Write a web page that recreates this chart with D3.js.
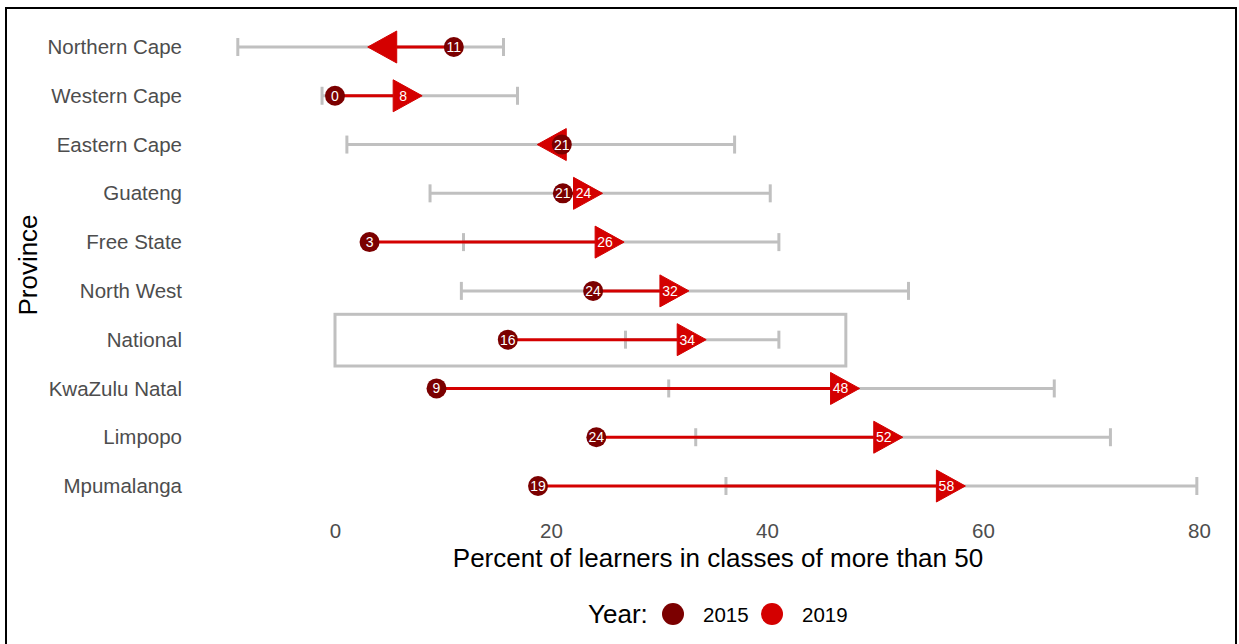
<!DOCTYPE html>
<html>
<head>
<meta charset="utf-8">
<script src="https://cdn.jsdelivr.net/npm/d3@7/dist/d3.min.js"></script>
<style>
  html, body { margin: 0; padding: 0; background: #fff; }
  svg { display: block; font-family: "Liberation Sans", Arial, Helvetica, sans-serif; }
</style>
</head>
<body>
<svg id="chart" width="1239" height="644"></svg>
<script>
// ---- data ----
const provinces = ["Northern Cape", "Western Cape", "Eastern Cape", "Guateng", "Free State",
                   "North West", "National", "KwaZulu Natal", "Limpopo", "Mpumalanga"];
const values2015 = [11.0, 0.0, 21.0, 21.1, 3.2, 23.9, 16.0, 9.4, 24.2, 18.8];
const values2019 = [3.4, 7.7, 19.1, 24.4, 26.4, 32.4, 34.0, 48.2, 52.2, 58.0];
const ciLow2019  = [-9.0, -1.2, 1.1, 8.8, 11.9, 11.7, 26.9, 30.9, 33.4, 36.2];
const ciHigh2019 = [15.6, 16.9, 37.0, 40.3, 41.1, 53.1, 41.1, 66.6, 71.8, 79.8];
const xTicks = [0, 20, 40, 60, 80];
const highlight = { province: "National", from: 0, to: 47.3 };
const years = ["2015", "2019"];

const data = provinces.map((p, i) => ({
  p, v15: values2015[i], v19: values2019[i], lo: ciLow2019[i], hi: ciHigh2019[i]
}));

// ---- styles ----
const dark = "#7b0000", red = "#d40000", grey = "#c0c0c0";
const FONT = "\"Liberation Sans\", Arial, Helvetica, sans-serif";

const svg = d3.select("#chart");

// outer frame
svg.append("rect").attr("x", 6).attr("y", 8).attr("width", 1230).attr("height", 660)
  .attr("fill", "none").attr("stroke", "#000").attr("stroke-width", 2);

const x = d3.scaleLinear().domain([0, 80]).range([335, 1199]);
const y = d3.scalePoint().domain(provinces).range([47, 486]);
const step = y.step();

// highlight box
svg.append("rect")
  .attr("x", x(highlight.from)).attr("y", y(highlight.province) - step * 0.52)
  .attr("width", x(highlight.to) - x(highlight.from)).attr("height", step * 1.06)
  .attr("fill", "none").attr("stroke", grey).attr("stroke-width", 3);

// CI error bars
const eb = svg.append("g").attr("stroke", grey).attr("stroke-width", 3);
data.forEach(d => {
  const yy = y(d.p);
  eb.append("line").attr("x1", x(d.lo)).attr("x2", x(d.hi)).attr("y1", yy).attr("y2", yy);
  [d.lo, d.hi].forEach(v => eb.append("line").attr("x1", x(v)).attr("x2", x(v))
    .attr("y1", yy - 9).attr("y2", yy + 9));
});

// arrows 2015 -> 2019
const ar = svg.append("g");
data.forEach(d => {
  const yy = y(d.p);
  const dir = d.v19 >= d.v15 ? 1 : -1;
  const tip = x(d.v19) + dir * 4;
  const base = tip - dir * 29;
  ar.append("line").attr("x1", x(d.v15)).attr("x2", base).attr("y1", yy).attr("y2", yy)
    .attr("stroke", red).attr("stroke-width", 3);
  ar.append("path")
    .attr("d", `M${tip},${yy} L${base},${yy - 16} L${base},${yy + 16} Z`)
    .attr("fill", red).attr("stroke", red).attr("stroke-width", 1).attr("stroke-linejoin", "round");
  if (dir === 1) {
    ar.append("text").attr("x", x(d.v19) - 15).attr("y", yy).attr("dy", "0.36em")
      .attr("text-anchor", "middle").attr("fill", "#fff").attr("font-size", 14)
      .text(d3.format(".0f")(d.v19));
  }
});

// 2015 points
const pt = svg.append("g");
data.forEach(d => {
  const yy = y(d.p);
  pt.append("circle").attr("cx", x(d.v15)).attr("cy", yy).attr("r", 10).attr("fill", dark);
  pt.append("text").attr("x", x(d.v15)).attr("y", yy).attr("dy", "0.36em")
    .attr("text-anchor", "middle").attr("fill", "#fff").attr("font-size", 14)
    .text(d3.format(".0f")(d.v15));
});

// y axis labels
const yAxis = d3.axisLeft(y).tickSize(0).tickPadding(0);
const yg = svg.append("g").attr("transform", "translate(182,0)").call(yAxis);
yg.select(".domain").remove();
yg.selectAll("text").attr("font-size", 20.5).attr("fill", "#4d4d4d").attr("font-family", FONT);

// x axis
const xAxis = d3.axisBottom(x).tickValues(xTicks).tickSize(0).tickPadding(0);
const xg = svg.append("g").attr("transform", "translate(0,523)").call(xAxis);
xg.select(".domain").remove();
xg.selectAll("text").attr("font-size", 20.5).attr("fill", "#4d4d4d").attr("font-family", FONT);

// axis titles
svg.append("text").attr("x", 718).attr("y", 567).attr("text-anchor", "middle")
  .attr("font-size", 26).attr("fill", "#000")
  .text("Percent of learners in classes of more than 50");
svg.append("text").attr("transform", "translate(37,265) rotate(-90)")
  .attr("text-anchor", "middle").attr("font-size", 26).attr("fill", "#000")
  .text("Province");

// legend
const lg = svg.append("g");
lg.append("text").attr("x", 588).attr("y", 623).attr("font-size", 26).attr("fill", "#000").text("Year:");
const legendColors = [dark, red];
const legendX = [673, 772];
years.forEach((yr, i) => {
  lg.append("circle").attr("cx", legendX[i]).attr("cy", 614).attr("r", 11).attr("fill", legendColors[i]);
  lg.append("text").attr("x", legendX[i] + 30).attr("y", 621.5).attr("font-size", 20.5)
    .attr("fill", "#000").text(yr);
});
</script>
</body>
</html>
